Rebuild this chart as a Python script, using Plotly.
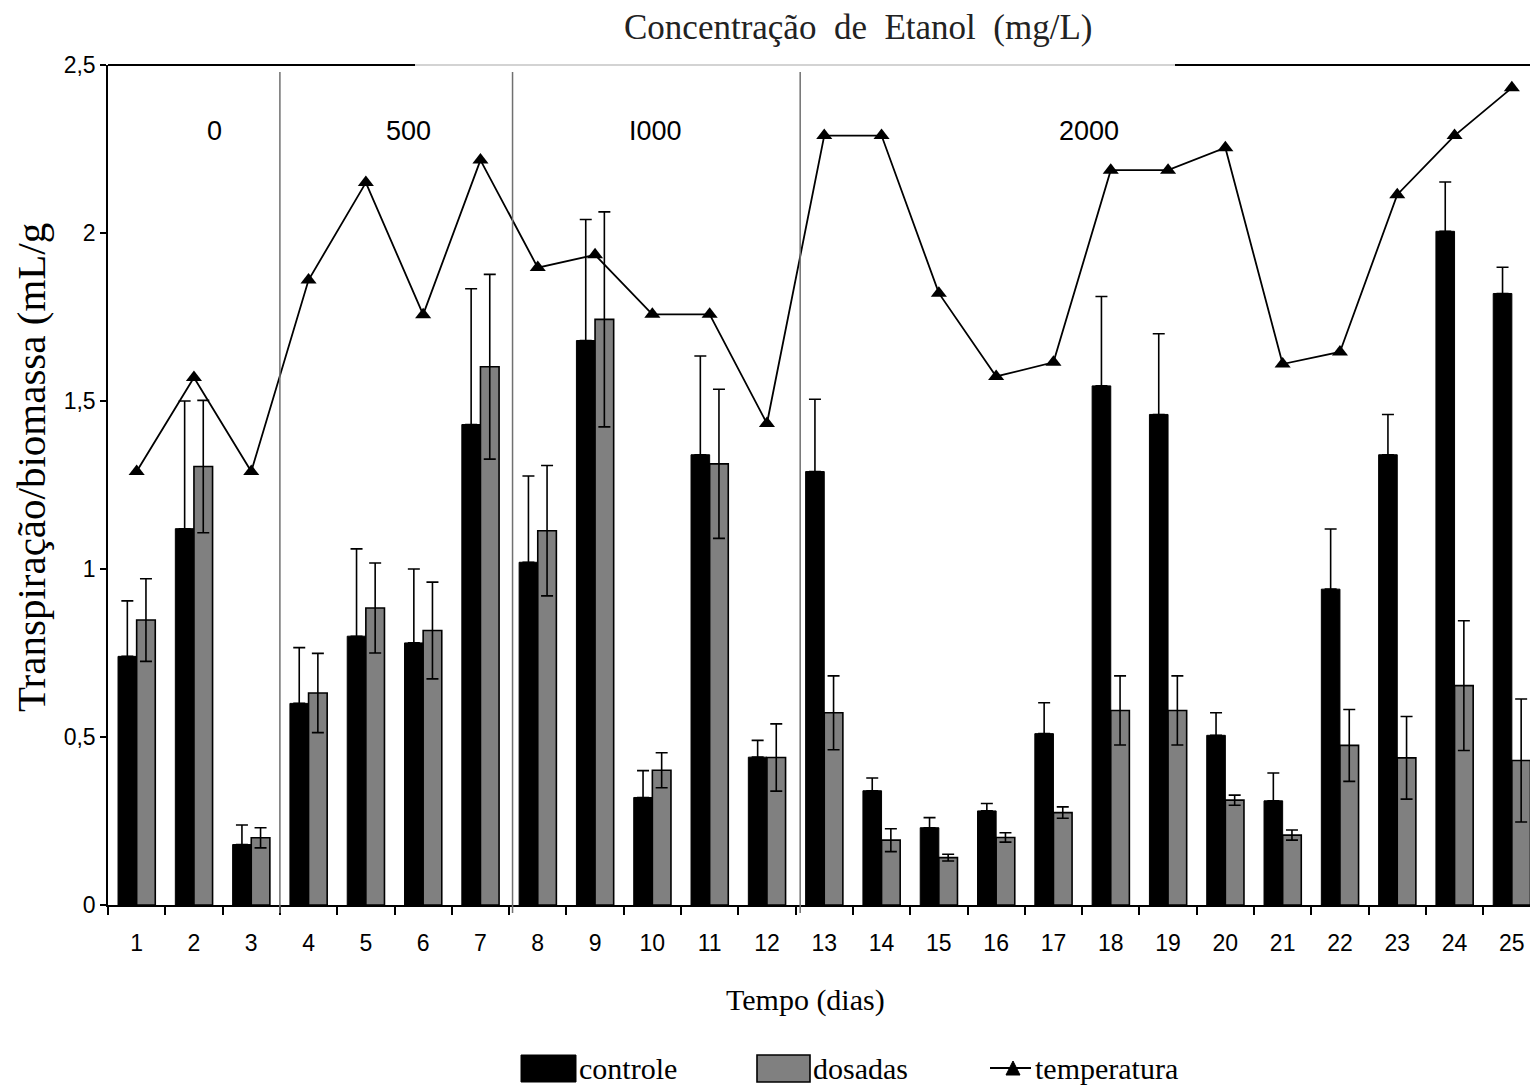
import plotly.graph_objects as go

# ---------------- data ----------------
dias = list(range(1, 26))
controle = [0.74, 1.12, 0.18, 0.60, 0.80, 0.78, 1.43, 1.02, 1.68, 0.32, 1.34, 0.44, 1.29,
            0.34, 0.23, 0.28, 0.51, 1.545, 1.46, 0.505, 0.31, 0.94, 1.34, 2.005, 1.82]
controle_err = [0.165, 0.38, 0.058, 0.166, 0.26, 0.22, 0.404, 0.257, 0.36, 0.08, 0.294, 0.05, 0.215,
                0.038, 0.03, 0.022, 0.092, 0.266, 0.24, 0.067, 0.083, 0.179, 0.12, 0.147, 0.078]
dosadas = [0.848, 1.305, 0.20, 0.631, 0.884, 0.817, 1.602, 1.114, 1.743, 0.401, 1.313, 0.439, 0.572,
           0.193, 0.141, 0.201, 0.275, 0.579, 0.579, 0.312, 0.208, 0.475, 0.438, 0.653, 0.43]
dosadas_err = [0.123, 0.197, 0.03, 0.118, 0.134, 0.144, 0.275, 0.194, 0.32, 0.052, 0.222, 0.1, 0.11,
               0.034, 0.01, 0.014, 0.017, 0.103, 0.103, 0.015, 0.015, 0.107, 0.123, 0.193, 0.183]
temperatura = [1.29, 1.57, 1.29, 1.86, 2.15, 1.757, 2.217, 1.897, 1.935, 1.758, 1.758, 1.433, 2.29,
               2.29, 1.821, 1.573, 1.615, 2.187, 2.187, 2.254, 1.61, 1.646, 2.114, 2.29, 2.432]
grupos = ["0", "500", "I000", "2000"]
y_ticks = [0, 0.5, 1, 1.5, 2, 2.5]

SERIF = "Liberation Serif, Times New Roman, serif"
SANS = "Liberation Sans, Arial, sans-serif"

# pixel helpers (figure layout: plot from x=108..1530, y=65..905)
L, R, T, B = 108, 1530, 65, 905
def px(x):
    return (x - L) / (R - L)
def py(y):
    return (B - y) / (B - T)

fig = go.Figure()

fig.add_trace(go.Bar(
    x=dias, y=controle, name="controle",
    marker=dict(color="black", line=dict(color="black", width=1)),
    error_y=dict(type="data", array=controle_err, arrayminus=[0] * len(controle_err),
                 symmetric=False, color="black", thickness=1.6, width=6),
))
fig.add_trace(go.Bar(
    x=dias, y=dosadas, name="dosadas",
    marker=dict(color="#808080", line=dict(color="black", width=1.6)),
    error_y=dict(type="data", array=dosadas_err, symmetric=True,
                 color="black", thickness=1.6, width=6),
))
fig.add_trace(go.Scatter(
    x=dias, y=temperatura, name="temperatura", mode="lines+markers",
    line=dict(color="black", width=1.8),
    marker=dict(symbol="triangle-up", size=14, color="black"),
))

shapes = []
# separators between ethanol groups
for xs in [3.5, 7.56, 12.58]:
    shapes.append(dict(type="line", xref="x", yref="paper", x0=xs, x1=xs,
                       y0=py(72), y1=py(913), line=dict(color="#707070", width=1.5)))
# top border (partly black, middle light gray)
shapes.append(dict(type="line", xref="paper", yref="paper", x0=0, x1=px(415), y0=1, y1=1,
                   line=dict(color="black", width=2)))
shapes.append(dict(type="line", xref="paper", yref="paper", x0=px(415), x1=px(1175), y0=1, y1=1,
                   line=dict(color="#c4c4c4", width=1.5)))
shapes.append(dict(type="line", xref="paper", yref="paper", x0=px(1175), x1=1, y0=1, y1=1,
                   line=dict(color="black", width=2)))

# custom legend
ly = py(1068)
shapes.append(dict(type="rect", xref="paper", yref="paper", x0=px(521), x1=px(576),
                   y0=py(1082), y1=py(1055), fillcolor="black", line=dict(color="black", width=1)))
shapes.append(dict(type="rect", xref="paper", yref="paper", x0=px(757), x1=px(810),
                   y0=py(1082), y1=py(1055), fillcolor="#808080", line=dict(color="black", width=1.6)))
shapes.append(dict(type="line", xref="paper", yref="paper", x0=px(990), x1=px(1031),
                   y0=ly, y1=ly, line=dict(color="black", width=1.8)))
tri = "M {a},{b} L {c},{d} L {e},{f} Z".format(
    a=px(1006), b=py(1075), c=px(1020), d=py(1075), e=px(1013), f=py(1061))
shapes.append(dict(type="path", xref="paper", yref="paper", path=tri,
                   fillcolor="black", line=dict(color="black", width=1)))

annotations = []
for lab, xc in zip(grupos, [214, 408, 655, 1089]):
    annotations.append(dict(text=lab, xref="paper", yref="paper", x=px(xc), y=py(131),
                            showarrow=False, xanchor="center", yanchor="middle",
                            font=dict(family=SANS, size=27, color="black")))
annotations.append(dict(text="Concentração\u00a0 de\u00a0 Etanol\u00a0 (mg/L)",
                        xref="paper", yref="paper", x=px(858), y=py(28),
                        showarrow=False, xanchor="center", yanchor="middle",
                        font=dict(family=SERIF, size=35, color="#222222")))
annotations.append(dict(text="Transpiração/biomassa (mL/g", xref="paper", yref="paper",
                        x=px(31), y=py(468), textangle=-90, showarrow=False,
                        xanchor="center", yanchor="middle",
                        font=dict(family=SERIF, size=41, color="black")))
annotations.append(dict(text="Tempo (dias)", xref="paper", yref="paper", x=px(805), y=py(1000),
                        showarrow=False, xanchor="center", yanchor="middle",
                        font=dict(family=SERIF, size=30, color="black")))
for txt, xl in [("controle", 577), ("dosadas", 811), ("temperatura", 1033)]:
    annotations.append(dict(text=txt, xref="paper", yref="paper", x=px(xl), y=ly,
                            showarrow=False, xanchor="left", yanchor="middle",
                            font=dict(family=SERIF, size=30, color="black")))

half = [d - 0.5 for d in dias] + [dias[-1] + 0.5]

fig.update_layout(
    width=1530, height=1089,
    margin=dict(l=L, r=0, t=T, b=1089 - B, pad=0),
    plot_bgcolor="white", paper_bgcolor="white",
    barmode="group", bargap=0.35, bargroupgap=0,
    showlegend=False,
    separators=",.",
    shapes=shapes, annotations=annotations,
    xaxis=dict(range=[0.5, 0.5 + (R - L) / 57.3], tickmode="array", tickvals=dias,
               ticktext=[str(d) for d in dias],
               ticks="outside", ticklen=8, tickcolor="rgba(0,0,0,0)",
               ticklabelstandoff=8,
               tickfont=dict(family=SANS, size=23, color="black"),
               showline=True, linecolor="black", linewidth=2, showgrid=False, zeroline=False,
               minor=dict(tickmode="array", tickvals=half, ticks="outside", ticklen=8,
                          tickwidth=1.5, tickcolor="black", showgrid=False)),
    xaxis2=dict(overlaying="x", matches="x", anchor="y", side="bottom",
                tickmode="array", tickvals=half, ticks="inside", ticklen=7, tickwidth=1.5,
                tickcolor="black", showticklabels=False, showline=False, showgrid=False,
                zeroline=False),
    yaxis=dict(range=[0, 2.5], tickmode="array", tickvals=y_ticks, ticks="outside", ticklen=6,
               tickwidth=1.5, tickcolor="black", ticklabelstandoff=0,
               tickfont=dict(family=SANS, size=23, color="black"),
               showline=True, linecolor="black", linewidth=1.5, showgrid=False, zeroline=False),
)

fig.write_html("out.html", config={"displayModeBar": False},
               post_script="document.body.style.margin='0';document.body.style.overflow='hidden';")
